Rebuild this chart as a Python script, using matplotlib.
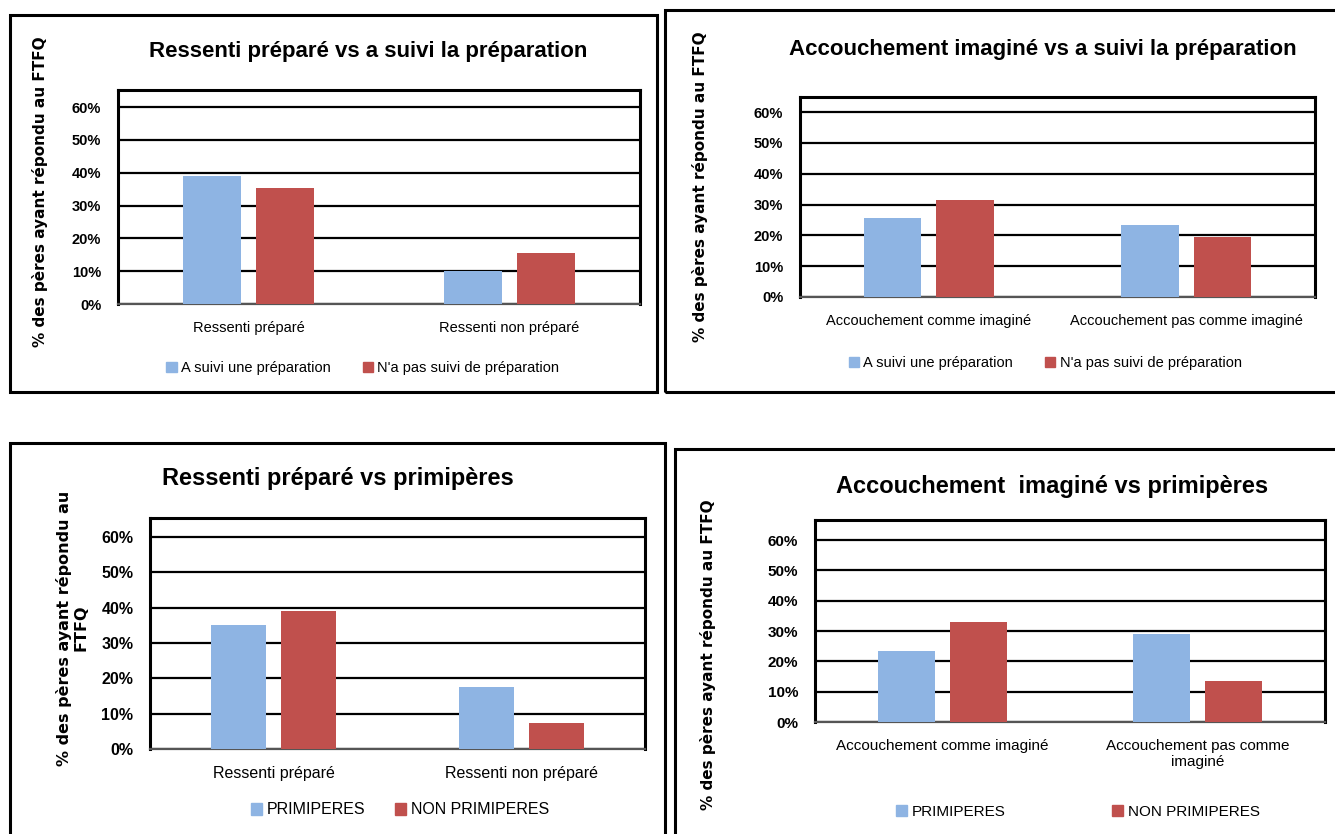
import matplotlib
matplotlib.use("Agg")
import matplotlib.pyplot as plt
from matplotlib.patches import Rectangle, Patch
from matplotlib.ticker import PercentFormatter

plt.rcParams['font.family'] = ['Liberation Sans Narrow', 'Liberation Sans', 'DejaVu Sans']

W, H = 1335, 834
BLUE = '#8EB4E3'
RED = '#C0504D'

# data
cats_prep = ['Ressenti préparé', 'Ressenti non préparé']
cats_acc = ['Accouchement comme imaginé', 'Accouchement pas comme imaginé']
cats_acc_wrap = ['Accouchement comme imaginé', 'Accouchement pas comme\nimaginé']
leg_prep = ['A suivi une préparation', "N'a pas suivi de préparation"]
leg_prim = ['PRIMIPERES', 'NON PRIMIPERES']

p1_suivi = [0.39, 0.10]
p1_pas_suivi = [0.353, 0.155]
p2_suivi = [0.255, 0.235]
p2_pas_suivi = [0.315, 0.195]
p3_prim = [0.35, 0.175]
p3_non_prim = [0.39, 0.075]
p4_prim = [0.235, 0.29]
p4_non_prim = [0.33, 0.135]

yticks = [0, 0.1, 0.2, 0.3, 0.4, 0.5, 0.6]


def fbox(x0, y0, x1, y1):
    return [x0 / W, 1 - y1 / H, (x1 - x0) / W, (y1 - y0) / H]


fig = plt.figure(figsize=(W / 100, H / 100), dpi=100)
fig.patch.set_facecolor('white')


def panel(frame, plot, ytop, title, title_xy, title_fs, cats, s1, s2, labels,
          leg_xy, colsp, tick_fs, ylab, ylab_xy, ylab_fs):
    x0, y0, x1, y1 = frame
    fig.patches.append(Rectangle((x0 / W, 1 - y1 / H), (x1 - x0) / W, (y1 - y0) / H,
                                 transform=fig.transFigure, fill=False,
                                 edgecolor='black', lw=2.2, zorder=0))
    ax = fig.add_axes(fbox(*plot))
    x = [0, 1]
    w = 0.222
    off = 0.141
    ax.bar([i - off for i in x], s1, w, color=BLUE, zorder=3)
    ax.bar([i + off for i in x], s2, w, color=RED, zorder=3)
    ax.set_xlim(-0.5, 1.5)
    ax.set_ylim(0, ytop)
    ax.set_yticks(yticks)
    ax.yaxis.set_major_formatter(PercentFormatter(1.0, decimals=0))
    ax.set_xticks(x)
    ax.set_xticklabels(cats, fontsize=tick_fs)
    for t in ax.get_yticklabels():
        t.set_fontweight('bold')
        t.set_fontsize(tick_fs)
    ax.tick_params(length=0)
    ax.tick_params(axis='y', pad=12)
    ax.tick_params(axis='x', pad=12)
    ax.yaxis.grid(True, color='black', lw=1.6, zorder=1)
    ax.set_axisbelow(True)
    for s in ['top', 'right', 'left']:
        ax.spines[s].set_linewidth(2.2)
    ax.spines['bottom'].set_color('#555555')
    ax.spines['bottom'].set_linewidth(1.6)
    fig.text(title_xy[0] / W, 1 - title_xy[1] / H, title, ha='center', va='center',
             fontsize=title_fs, fontweight='bold')
    fig.text(ylab_xy[0] / W, 1 - ylab_xy[1] / H, ylab, rotation=90,
             ha='center', va='center', fontsize=ylab_fs, fontweight='bold',
             family='DejaVu Sans', linespacing=1.1)
    handles = [Patch(color=BLUE), Patch(color=RED)]
    fig.legend(handles, labels, loc='center', ncol=2, frameon=False,
               bbox_to_anchor=(leg_xy[0] / W, 1 - leg_xy[1] / H),
               handlelength=0.7, handleheight=0.7, handletextpad=0.3,
               columnspacing=colsp, fontsize=tick_fs)
    return ax


ylab = '% des pères ayant répondu au FTFQ'

panel((10, 15, 657, 392), (118, 90, 640, 304), 0.652,
      'Ressenti préparé vs a suivi la préparation', (368, 52), 16,
      cats_prep, p1_suivi, p1_pas_suivi, leg_prep, (363, 368), 2.2, 10.5,
      ylab, (40, 192), 11)

panel((665, 10, 1345, 392), (800, 97, 1315, 297), 0.649,
      'Accouchement imaginé vs a suivi la préparation', (1043, 50), 16,
      cats_acc, p2_suivi, p2_pas_suivi, leg_prep, (1045, 363), 2.2, 10.5,
      ylab, (700, 187), 11)

panel((10, 443, 665, 845), (150, 518, 645, 749), 0.654,
      'Ressenti préparé vs primipères', (338, 478), 17,
      cats_prep, p3_prim, p3_non_prim, leg_prim, (400, 810), 1.8, 11.5,
      '% des pères ayant répondu au\nFTFQ', (72, 628), 11.5)

panel((675, 449, 1345, 845), (815, 520, 1325, 722), 0.666,
      'Accouchement  imaginé vs primipères', (1052, 487), 17,
      cats_acc_wrap, p4_prim, p4_non_prim, leg_prim, (1078, 812), 7, 11,
      ylab, (708, 655), 11)

fig.savefig('out.png', dpi=100, facecolor='white')
